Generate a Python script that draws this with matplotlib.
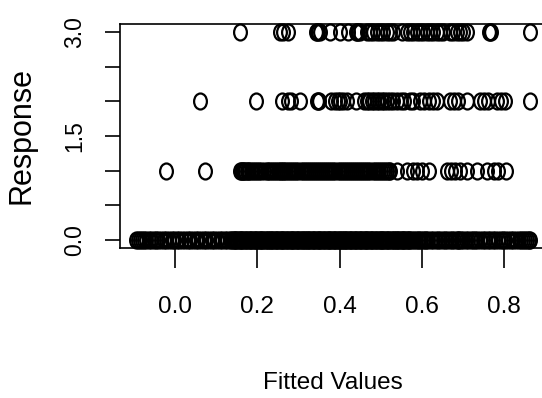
import numpy as np
import matplotlib
matplotlib.use("Agg")
import matplotlib.pyplot as plt
from matplotlib.path import Path
from matplotlib.transforms import Affine2D

# fitted values, one list per response level
fit_resp0 = [-0.095, -0.091, -0.086, -0.080, -0.075, -0.070, -0.064, -0.058, -0.052,
             -0.046, -0.040, -0.034, -0.027, -0.021, -0.014, -0.008, -0.002, 0.005,
             0.011, 0.018, 0.024, 0.031, 0.037, 0.044, 0.050, 0.057, 0.063, 0.070,
             0.076, 0.083, 0.089, 0.096, 0.102, 0.109, 0.115, 0.122, 0.127, 0.133,
             0.137, 0.140, 0.143, 0.146, 0.149, 0.151, 0.155, 0.158, 0.161, 0.164,
             0.166, 0.169, 0.173, 0.176, 0.179, 0.182, 0.184, 0.187, 0.191, 0.194,
             0.197, 0.200, 0.203, 0.207, 0.209, 0.212, 0.215, 0.218, 0.221, 0.225,
             0.227, 0.230, 0.233, 0.236, 0.239, 0.243, 0.245, 0.248, 0.251, 0.254,
             0.257, 0.261, 0.263, 0.266, 0.269, 0.272, 0.275, 0.279, 0.281, 0.284,
             0.287, 0.290, 0.293, 0.297, 0.299, 0.302, 0.305, 0.308, 0.311, 0.315,
             0.317, 0.320, 0.323, 0.326, 0.329, 0.333, 0.335, 0.338, 0.341, 0.344,
             0.347, 0.351, 0.353, 0.356, 0.359, 0.362, 0.365, 0.369, 0.371, 0.374,
             0.377, 0.380, 0.383, 0.387, 0.389, 0.392, 0.395, 0.398, 0.401, 0.405,
             0.407, 0.410, 0.413, 0.416, 0.419, 0.423, 0.425, 0.428, 0.431, 0.434,
             0.437, 0.441, 0.443, 0.446, 0.449, 0.452, 0.455, 0.459, 0.461, 0.464,
             0.467, 0.470, 0.473, 0.477, 0.479, 0.482, 0.485, 0.488, 0.491, 0.495,
             0.497, 0.500, 0.503, 0.506, 0.509, 0.513, 0.515, 0.518, 0.521, 0.524,
             0.527, 0.531, 0.533, 0.536, 0.539, 0.542, 0.545, 0.549, 0.551, 0.554,
             0.557, 0.560, 0.563, 0.567, 0.569, 0.572, 0.576, 0.580, 0.585, 0.590,
             0.594, 0.598, 0.603, 0.607, 0.611, 0.615, 0.621, 0.628, 0.634, 0.640,
             0.645, 0.650, 0.656, 0.662, 0.667, 0.672, 0.678, 0.684, 0.688, 0.690,
             0.695, 0.700, 0.706, 0.712, 0.718, 0.725, 0.730, 0.735, 0.741, 0.748,
             0.754, 0.760, 0.766, 0.772, 0.778, 0.785, 0.791, 0.797, 0.803, 0.810,
             0.816, 0.822, 0.828, 0.835, 0.840, 0.845, 0.850, 0.855, 0.859, 0.862]
fit_resp1 = [-0.022, 0.073, 0.158, 0.161, 0.163, 0.166, 0.168, 0.171, 0.174, 0.177,
             0.180, 0.185, 0.190, 0.195, 0.200, 0.205, 0.210, 0.216, 0.223, 0.227,
             0.232, 0.236, 0.240, 0.245, 0.250, 0.254, 0.258, 0.262, 0.266, 0.270,
             0.275, 0.280, 0.285, 0.290, 0.295, 0.300, 0.305, 0.310, 0.315, 0.320,
             0.325, 0.330, 0.335, 0.340, 0.345, 0.350, 0.355, 0.360, 0.365, 0.370,
             0.375, 0.380, 0.385, 0.390, 0.395, 0.400, 0.405, 0.410, 0.415, 0.420,
             0.425, 0.430, 0.435, 0.440, 0.445, 0.450, 0.455, 0.460, 0.465, 0.470,
             0.475, 0.480, 0.485, 0.490, 0.495, 0.500, 0.505, 0.510, 0.515, 0.519,
             0.522, 0.539, 0.563, 0.578, 0.588, 0.600, 0.616, 0.660, 0.670, 0.680,
             0.692, 0.709, 0.733, 0.757, 0.775, 0.785, 0.805]
fit_resp2 = [0.061, 0.198, 0.259, 0.275, 0.283, 0.304, 0.345, 0.348, 0.350, 0.380,
             0.388, 0.395, 0.401, 0.409, 0.417, 0.441, 0.460, 0.466, 0.472, 0.478,
             0.484, 0.490, 0.496, 0.502, 0.508, 0.514, 0.522, 0.530, 0.540, 0.550,
             0.556, 0.571, 0.579, 0.595, 0.606, 0.616, 0.626, 0.636, 0.668, 0.678,
             0.688, 0.709, 0.741, 0.751, 0.761, 0.782, 0.792, 0.802, 0.862]
fit_resp3 = [0.158, 0.255, 0.262, 0.275, 0.343, 0.346, 0.348, 0.352, 0.377, 0.401,
             0.421, 0.440, 0.443, 0.445, 0.449, 0.466, 0.474, 0.482, 0.490, 0.498,
             0.506, 0.514, 0.522, 0.530, 0.551, 0.563, 0.571, 0.579, 0.587, 0.595,
             0.603, 0.612, 0.620, 0.628, 0.636, 0.644, 0.652, 0.668, 0.676, 0.684,
             0.692, 0.700, 0.709, 0.763, 0.765, 0.767, 0.862]
levels = [0, 1, 2, 3]

x_ticks = [0.0, 0.2, 0.4, 0.6, 0.8]
x_ticklabels = ["0.0", "0.2", "0.4", "0.6", "0.8"]
y_ticks = [0.0, 0.5, 1.0, 1.5, 2.0, 2.5, 3.0]
y_ticklabels = ["0.0", "", "", "1.5", "", "", "3.0"]

fig = plt.figure(figsize=(5.42, 3.98), dpi=100)
ax = fig.add_axes([0.2218, 0.3769, 0.7845, 0.5628])

# slightly squashed open circles, like the source picture
ell = Path.unit_circle().transformed(Affine2D().scale(0.8, 1.0))

for lev, vals in zip(levels, [fit_resp0, fit_resp1, fit_resp2, fit_resp3]):
    ax.plot(vals, [lev] * len(vals), linestyle="none", marker=ell,
            mfc="none", mec="black", ms=11.5, mew=1.6, clip_on=False)

ax.set_xlim(-0.133, 0.90)
ax.set_ylim(-0.12, 3.12)

for sp in ax.spines.values():
    sp.set_linewidth(1.2)

ax.set_xticks(x_ticks)
ax.set_xticklabels(x_ticklabels, family="Liberation Sans", fontsize=17.5)
ax.set_yticks(y_ticks)
ax.set_yticklabels(y_ticklabels, family="Liberation Sans", fontsize=16.5,
                   rotation=90, va="center")
ax.tick_params(axis="x", length=14.4, width=1.2, pad=20)
ax.tick_params(axis="y", length=10.8, width=1.2, pad=14)

ax.set_xlabel("Fitted Values", family="Liberation Sans", fontsize=17.5, va="center")
ax.xaxis.set_label_coords(0.5, -0.603)
ax.set_ylabel("Response", family="Liberation Sans", fontsize=22, va="center")
ax.yaxis.set_label_coords(-0.231, 0.5)

fig.savefig("out.png", dpi=100)
